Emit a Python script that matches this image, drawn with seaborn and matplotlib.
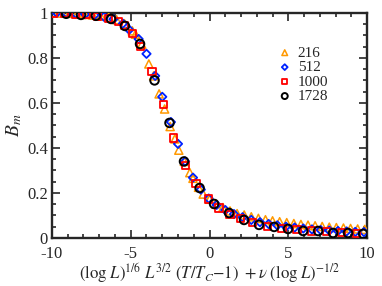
import matplotlib
matplotlib.use("Agg")
import matplotlib.pyplot as plt
import seaborn as sns
from matplotlib.ticker import MultipleLocator, FormatStrFormatter

# series values (scaling collapse of B_m)
sizes = ["216", "512", "1000", "1728"]

x_216 = [-9.9, -9.4, -8.9, -8.4, -7.9, -7.4, -6.9, -6.4, -5.9, -5.4, -4.9, -4.7,
         -4.3, -3.85, -3.55, -3.2, -2.85, -2.5, -2.2, -1.95, -1.6, -1.25, -1.05,
         -0.7, -0.4, 0.0, 0.4, 0.85, 1.3, 1.75, 2.2, 2.65, 3.1, 3.55, 4.0, 4.45,
         4.9, 5.35, 5.8, 6.25, 6.7, 7.15, 7.6, 8.05, 8.5, 8.95, 9.4, 9.85]
y_216 = [1.0, 0.999, 0.998, 0.996, 0.993, 0.99, 0.986, 0.98, 0.97, 0.952, 0.92, 0.905,
         0.86, 0.773, 0.72, 0.64, 0.573, 0.495, 0.44, 0.39, 0.34, 0.29, 0.265,
         0.225, 0.195, 0.172, 0.152, 0.135, 0.12, 0.108, 0.102, 0.094, 0.087, 0.081,
         0.076, 0.072, 0.068, 0.064, 0.06, 0.057, 0.054, 0.051, 0.048, 0.046, 0.044,
         0.042, 0.04, 0.038]

x_512 = [-9.7, -9.1, -8.5, -7.9, -7.3, -6.7, -6.1, -5.5, -5.1, -4.5, -4.0, -3.45,
         -3.0, -2.45, -2.0, -1.55, -1.05, -0.55, -0.05, 0.45, 1.0, 1.55, 2.1, 2.65,
         3.2, 3.75, 4.3, 4.85, 5.4, 5.95, 6.5, 7.05, 7.6, 8.15, 8.7, 9.25, 9.8]
y_512 = [1.0, 0.999, 0.997, 0.994, 0.99, 0.983, 0.972, 0.952, 0.925, 0.884, 0.818, 0.72,
         0.627, 0.515, 0.418, 0.34, 0.268, 0.215, 0.175, 0.147, 0.124, 0.106, 0.092,
         0.08, 0.07, 0.062, 0.056, 0.05, 0.046, 0.042, 0.038, 0.035, 0.033, 0.031,
         0.029, 0.027, 0.026]

x_1000 = [-9.9, -9.2, -8.5, -7.8, -7.1, -6.4, -5.8, -5.4, -4.9, -4.4, -3.65, -2.95,
          -2.3, -1.55, -0.86, -0.06, 0.6, 1.3, 1.95, 2.7, 3.65, 4.6, 5.55, 6.5,
          7.45, 8.4, 9.35]
y_1000 = [0.998, 0.997, 0.995, 0.991, 0.985, 0.975, 0.96, 0.942, 0.91, 0.85, 0.738, 0.591,
          0.444, 0.32, 0.242, 0.173, 0.133, 0.106, 0.087, 0.067, 0.052, 0.042, 0.036,
          0.031, 0.027, 0.023, 0.02]

x_1728 = [-9.1, -8.16, -7.21, -6.25, -5.37, -4.41, -3.49, -2.54, -1.62, -0.63, 0.29,
          1.24, 2.19, 3.14, 4.1, 4.98, 5.94, 6.89, 7.84, 8.79, 9.75]
y_1728 = [0.996, 0.991, 0.987, 0.973, 0.942, 0.862, 0.70, 0.511, 0.34, 0.222, 0.151,
          0.111, 0.08, 0.058, 0.049, 0.04, 0.031, 0.031, 0.022, 0.022, 0.018]

xs = [x_216, x_512, x_1000, x_1728]
ys = [y_216, y_512, y_1000, y_1728]
colors = ["#ff9900", "#0022ff", "#ff0000", "#000000"]
markers = ["^", "D", "s", "o"]
msizes = [34, 18, 26, 38]
lws = [1.1, 1.3, 1.3, 1.4]

sns.set_style("ticks")
plt.rcParams["font.family"] = ["Liberation Serif", "DejaVu Serif"]
plt.rcParams["mathtext.fontset"] = "stix"
plt.rcParams["axes.unicode_minus"] = False

fig, ax = plt.subplots(figsize=(3.82, 2.86), dpi=100)
fig.subplots_adjust(left=0.136, right=0.961, top=0.955, bottom=0.168)

for lab, x, y, c, m, s, lw in zip(sizes, xs, ys, colors, markers, msizes, lws):
    sns.scatterplot(x=x, y=y, ax=ax, marker=m, s=s, facecolor="none",
                    edgecolor=c, linewidth=lw, label=lab, zorder=3)

ax.set_xlim(-10, 10)
ax.set_ylim(0, 1)
ax.xaxis.set_major_locator(MultipleLocator(5))
ax.xaxis.set_minor_locator(MultipleLocator(1))
ax.yaxis.set_major_locator(MultipleLocator(0.2))
ax.yaxis.set_minor_locator(MultipleLocator(0.05))
ax.yaxis.set_major_formatter(FormatStrFormatter("%g"))
ax.tick_params(which="both", direction="in", top=True, right=True,
               labelsize=12, width=1.2)
ax.tick_params(axis="x", pad=6)
ax.tick_params(axis="y", pad=3)
ax.tick_params(which="major", length=6)
ax.tick_params(which="minor", length=3)
for sp in ax.spines.values():
    sp.set_linewidth(1.7)

ax.set_ylabel(r"$B_m$", fontsize=14, labelpad=2)
ax.set_xlabel(r"$(\mathrm{log}\ L)^{1/6}\ L^{3/2}\ (T/T_C\mathit{-1})\ +\nu\ (\mathrm{log}\ L)^{-1/2}$",
              fontsize=12, labelpad=-1)

ax.legend(loc="upper left", bbox_to_anchor=(0.695, 0.88), frameon=False,
          fontsize=11, markerscale=0.7, handletextpad=0.35, labelspacing=0.05,
          handlelength=1.0, borderaxespad=0)

fig.savefig("out.png", dpi=100)
